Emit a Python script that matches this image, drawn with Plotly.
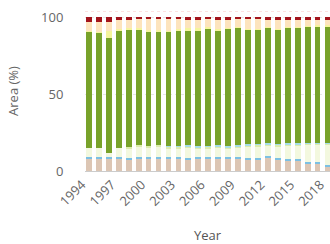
import plotly.graph_objects as go

years = list(range(1994, 2019))

bare = [7.8, 7.8, 7.8, 7.8, 7.5, 8.3, 8.3, 8.3, 7.8, 8.0, 7.3, 8.0, 8.0, 7.8, 8.3, 7.8,
        7.6, 7.6, 8.7, 7.6, 6.5, 6.8, 5.0, 5.0, 2.8]
water = [1.0] * 25
pale = [5.9, 5.9, 3.1, 5.9, 6.3, 6.6, 5.9, 6.6, 6.1, 5.9, 7.1, 5.4, 5.9, 6.6, 5.1, 6.6,
        7.3, 7.6, 7.0, 7.6, 9.2, 8.9, 11.2, 11.2, 13.4]
grass = [0, 0, 0, 0, 1.0, 1.0, 1.0, 1.0, 0.8, 0.8, 0.8, 0.8, 0.8, 0.8, 0.8, 0.8,
         0.8, 0.8, 0.8, 0.8, 0.8, 0.8, 0.8, 0.8, 0.8]
shrub = [0, 0, 0, 0, 0, 0, 0, 0, 0.8, 0.8, 0.8, 0.8, 0.8, 0.8, 0.8, 0.8,
         0.8, 0.5, 0.5, 0.5, 0.5, 0.5, 0.5, 0.5, 0.5]
forest = [75.8, 75.1, 74.3, 76.9, 76.4, 75.3, 74.7, 74.0, 74.0, 74.6, 74.1, 74.9, 75.5, 74.1, 76.6, 76.0,
          74.5, 74.5, 75.0, 74.5, 75.0, 75.0, 75.2, 75.7, 75.7]
yellow = [0.5, 0.5, 4.7, 1.0, 1.0, 1.0, 0.5, 0.5, 0.5, 1.5, 2.0, 2.0, 1.5, 1.0, 0.5, 0.5,
          0.5, 0.5, 0.5, 0.5, 0.5, 0.5, 0.5, 0.5, 0.5]
peach = [5.8, 6.5, 5.9, 5.6, 5.0, 5.8, 7.1, 7.6, 8.0, 6.4, 5.2, 5.4, 5.5, 6.2, 5.2, 5.5,
         6.5, 6.5, 4.8, 5.8, 4.8, 4.8, 4.1, 3.6, 3.6]
red = [3.2, 3.2, 3.2, 1.8, 1.8, 1.0, 1.5, 1.0, 1.0, 1.0, 1.7, 1.7, 1.0, 1.7, 1.7, 1.0,
       1.0, 1.0, 1.7, 1.7, 1.7, 1.7, 1.7, 1.7, 1.7]

series = [
    ("Bare", bare, "#dcc6b4"),
    ("Water", water, "#7cc0e3"),
    ("Wetland", pale, "#f3f8df"),
    ("Grassland", grass, "#dcedab"),
    ("Shrubland", shrub, "#a6dde9"),
    ("Forest", forest, "#78a22a"),
    ("Cropland", yellow, "#f5f49c"),
    ("Pasture", peach, "#fde4bd"),
    ("Urban", red, "#a3141c"),
]

fig = go.Figure()
for name, vals, col in series:
    fig.add_trace(go.Bar(x=years, y=vals, name=name, marker=dict(color=col, line=dict(width=0))))

fig.add_shape(type="line", xref="paper", x0=0, x1=1, yref="y", y0=104, y1=104,
              line=dict(color="rgba(240,140,140,0.5)", width=1, dash="dot"))

fig.update_layout(
    barmode="stack",
    bargap=0.42,
    width=330, height=244,
    margin=dict(l=85, r=0, t=11, b=73, autoexpand=False),
    paper_bgcolor="white", plot_bgcolor="white",
    showlegend=False,
    font=dict(family="Open Sans", size=13, color="#666"),
    xaxis=dict(
        range=[1993.6, 2018.25], automargin=False,
        tickmode="array", tickvals=list(range(1994, 2019, 3)),
        tickangle=-45, showgrid=False, showline=True, linecolor="#ccc",
        ticks="", zeroline=False, ticklabeloverflow="allow", ticklabelshift=-7,
        title=dict(text="Year", font=dict(size=13, color="#555"), standoff=26),
    ),
    yaxis=dict(
        range=[0, 104], tickvals=[0, 50, 100], automargin=False,
        showgrid=True, gridcolor="#e6e6e6", griddash="dot", zeroline=False,
        ticks="outside", ticklen=18, tickcolor="rgba(0,0,0,0)",
        title=dict(text="Area (%)", font=dict(size=13, color="#666"), standoff=19),
    ),
)

fig.write_html("out.html", config={"displayModeBar": False},
               post_script="document.body.style.margin='0';document.body.style.overflow='hidden';")
